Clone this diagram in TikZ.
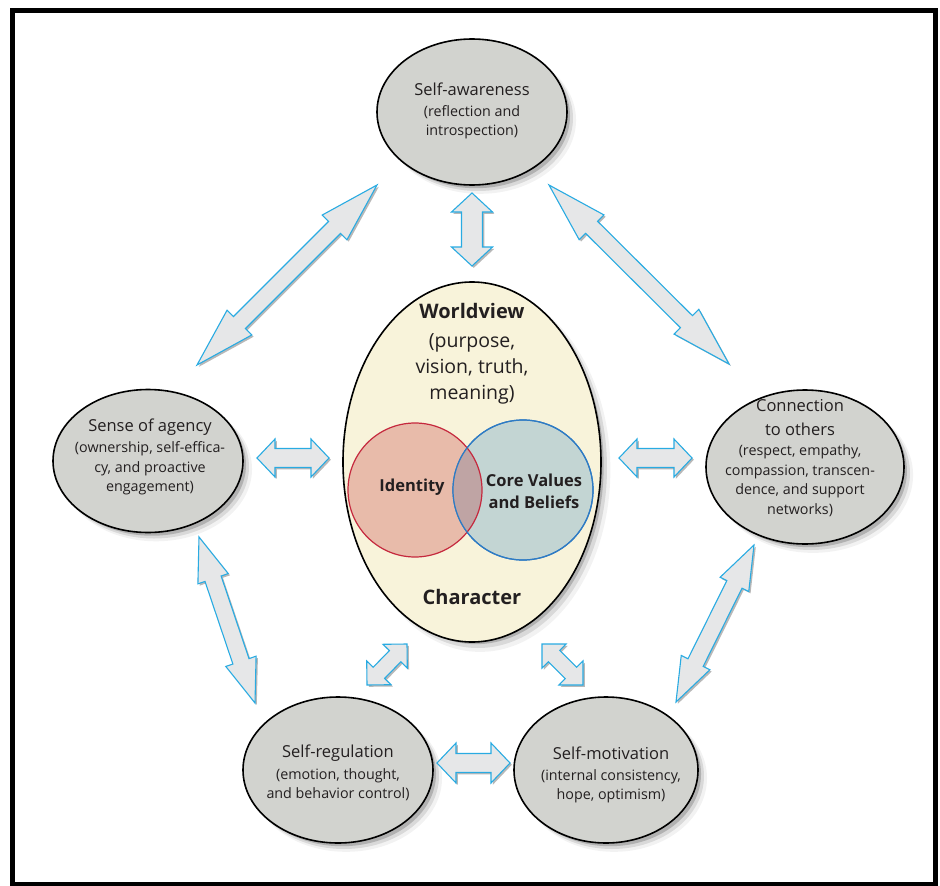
\documentclass[tikz,border=0pt]{standalone}
\usepackage{fontspec}
\setmainfont{Open Sans}
\usetikzlibrary{calc,shapes.geometric,shadows}
\definecolor{gfill}{HTML}{D2D3CF}
\definecolor{cream}{HTML}{F8F3DA}
\definecolor{afill}{HTML}{E6E7E8}
\definecolor{astroke}{HTML}{29ABE2}
\definecolor{idfill}{HTML}{E8BBAA}
\definecolor{idstroke}{HTML}{C5283D}
\definecolor{corefill}{HTML}{C3D5D3}
\definecolor{corestroke}{HTML}{2E7BC4}
\definecolor{overlapfill}{HTML}{BFA4A4}
\definecolor{txt}{HTML}{231F20}
\newcommand{\ttlfont}{\fontsize{16.5}{20}\selectfont}
\tikzset{
  soft shadow/.style={
    general shadow={fill=black,opacity=.05,shadow xshift=8pt,shadow yshift=-8pt,shadow scale=1.01},
    general shadow={fill=black,opacity=.10,shadow xshift=6pt,shadow yshift=-6pt},
    general shadow={fill=black,opacity=.18,shadow xshift=4pt,shadow yshift=-4pt,shadow scale=.99}},
  oval/.style={ellipse, draw=black, line width=1.6pt, fill=gfill, soft shadow, inner sep=0pt},
  bigoval/.style={ellipse, draw=black, line width=1.6pt, fill=cream, soft shadow, inner sep=0pt},
  ovaltext/.style={align=center, text=txt, inner sep=0pt, font=\fontsize{14.3}{19.5}\selectfont},
  boldtext/.style={align=center, text=txt, inner sep=0pt, font=\fontsize{20}{26}\selectfont\bfseries},
  venntext/.style={align=center, text=txt, inner sep=0pt, font=\fontsize{16.5}{22}\selectfont\bfseries},
  arrsty/.style={fill=afill, draw=astroke, line width=1.1pt, line join=miter,
    preaction={fill=black, opacity=.28, transform canvas={shift={(1.8pt,-1.8pt)}}}}
}
\newcommand{\blockarr}[5]{%
  \path ($(#1)!#5!(#2)$) coordinate (h1) ($(#2)!#5!(#1)$) coordinate (h2);
  \path[arrsty] (#1) -- ($(h1)!#4!90:(#2)$) -- ($(h1)!#3!90:(#2)$)
    -- ($(h2)!#3!-90:(#1)$) -- ($(h2)!#4!-90:(#1)$) -- (#2)
    -- ($(h2)!#4!90:(#1)$) -- ($(h2)!#3!90:(#1)$)
    -- ($(h1)!#3!-90:(#2)$) -- ($(h1)!#4!-90:(#2)$) -- cycle;}
\begin{document}
\begin{tikzpicture}[x=1pt,y=-1pt]
\useasboundingbox (0,0) rectangle (940,886);
\fill[white] (0,0) rectangle (940,886);
\draw[line width=5pt] (12.5,10.5) rectangle (935.5,884.5);

% outer ovals
\node[oval, minimum width=190pt, minimum height=146pt] (sa) at (472,112) {};
\node[oval, minimum width=190pt, minimum height=143pt] (soa) at (148,461) {};
\node[oval, minimum width=198pt, minimum height=154pt] (con) at (805,467) {};
\node[oval, minimum width=190pt, minimum height=146pt] (sr) at (338,770) {};
\node[oval, minimum width=184pt, minimum height=146pt] (sm) at (606,770) {};

% central oval
\node[bigoval, minimum width=258pt, minimum height=360pt] (core) at (472,462) {};

% Venn circles
\node[circle, fill=idfill, minimum size=134pt, inner sep=0pt] (id) at (415,490) {};
\node[circle, fill=corefill, draw=corestroke, line width=1.2pt, minimum size=140pt, inner sep=0pt] (cv) at (523,490) {};
\begin{scope}
  \clip (id.center) circle (67pt);
  \fill[overlapfill] (cv.center) circle (70pt);
\end{scope}
\draw[idstroke, line width=1.2pt] (id.center) circle (67pt);
\draw[corestroke, line width=1.2pt] (cv.center) circle (70pt);

% texts
\node[ovaltext] (sa-t) at (472,111) {{\ttlfont Self-awareness}\\[1pt](reflection and\\introspection)};
\node[ovaltext] (soa-t) at (150,457) {{\ttlfont Sense of agency}\\[2pt](ownership, self-effica-\\cy, and proactive\\engagement)};
\node[ovaltext] (con-t) at (800,458) {{\ttlfont Connection}\\[4pt]{\ttlfont to others}\\[1pt](respect, empathy,\\compassion, transcen-\\dence, and support\\networks)};
\node[ovaltext] (sr-t) at (338,773) {{\ttlfont Self-regulation}\\[2pt](emotion, thought,\\and behavior control)};
\node[ovaltext] (sm-t) at (611,775) {{\ttlfont Self-motivation}\\[1pt](internal consistency,\\hope, optimism)};
\node[align=center, text=txt, inner sep=0pt, font=\fontsize{19.5}{26}\selectfont] (wv-t) at (472,354) {{\fontsize{20}{26}\selectfont\bfseries Worldview}\\[3pt](purpose,\\vision, truth,\\meaning)};
\node[boldtext] (ch-t) at (472,597) {Character};
\node[venntext] (id-t) at (412,487) {Identity};
\node[venntext] (cv-t) at (534,491) {Core Values\\and Beliefs};

% arrow end points
\coordinate (a1s) at (377,185); \coordinate (a1e) at (197,365);
\coordinate (a2s) at (549,185); \coordinate (a2e) at (729,364);
\coordinate (a3s) at (472,193); \coordinate (a3e) at (472,266);
\coordinate (a4s) at (257,458); \coordinate (a4e) at (329,458);
\coordinate (a5s) at (619,458); \coordinate (a5e) at (692,458);
\coordinate (a6s) at (437,763); \coordinate (a6e) at (510,763);
\coordinate (a7s) at (367,685); \coordinate (a7e) at (407,644);
\coordinate (a8s) at (542,644); \coordinate (a8e) at (583,685);
\coordinate (a9s) at (199,537); \coordinate (a9e) at (255,703);
\coordinate (a10s) at (754,545); \coordinate (a10e) at (676,702);

\blockarr{a1s}{a1e}{8.5pt}{17.5pt}{60pt}
\blockarr{a2s}{a2e}{8.5pt}{17.5pt}{60pt}
\blockarr{a3s}{a3e}{10.5pt}{20.5pt}{19pt}
\blockarr{a4s}{a4e}{9.5pt}{19pt}{18pt}
\blockarr{a5s}{a5e}{9.5pt}{19pt}{18pt}
\blockarr{a6s}{a6e}{9.5pt}{20pt}{19pt}
\blockarr{a7s}{a7e}{8pt}{17pt}{17pt}
\blockarr{a8s}{a8e}{8pt}{17pt}{17pt}
\blockarr{a9s}{a9e}{8.5pt}{16pt}{44pt}
\blockarr{a10s}{a10e}{8.5pt}{16pt}{44pt}
\end{tikzpicture}
\end{document}
